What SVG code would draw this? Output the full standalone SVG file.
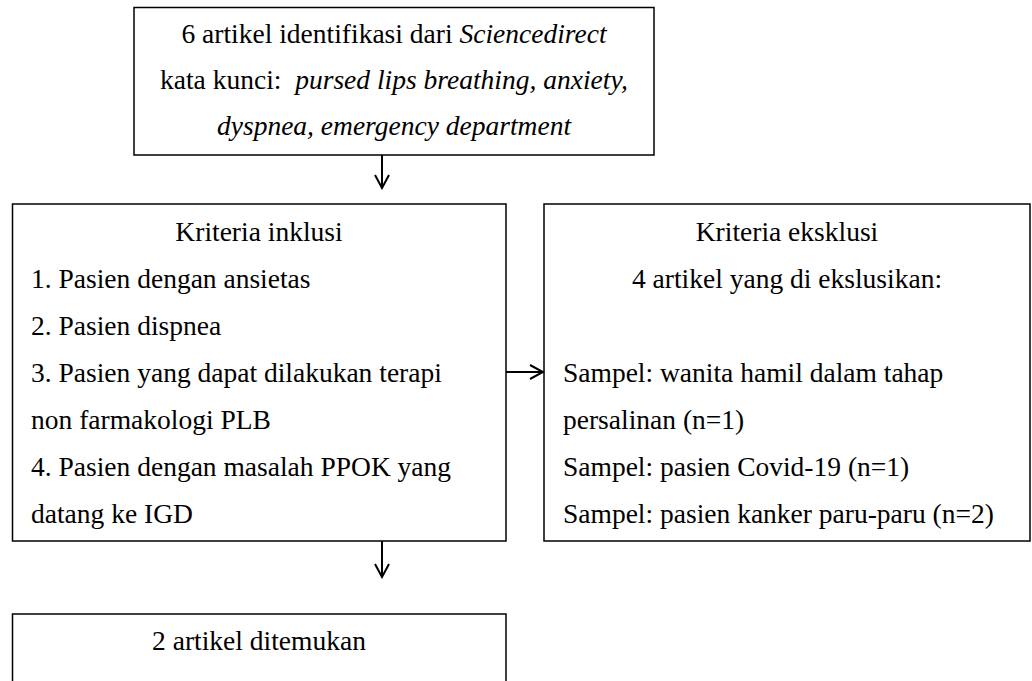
<svg xmlns="http://www.w3.org/2000/svg" width="1032" height="681" viewBox="0 0 1032 681">
<defs>
<style>
.box{fill:#fff;stroke:#000;stroke-width:1.5}
.t{font-family:"Liberation Serif","Times New Roman",serif;font-size:27.5px;fill:#000}
.c{text-anchor:middle}
.i{font-style:italic}
.conn{stroke:#000;stroke-width:2;fill:none}
</style>
<marker id="ah" viewBox="0 0 16 16" refX="14" refY="8" markerWidth="16" markerHeight="16" markerUnits="userSpaceOnUse" orient="auto">
<path d="M1,1 L14,8 L1,15" fill="none" stroke="#000" stroke-width="2"/>
</marker>
</defs>
<rect width="1032" height="681" fill="#fff"/>
<g id="node-identifikasi">
<rect class="box" x="134" y="7.5" width="520" height="147.5"/>
<text class="t c" x="394" y="43">6 artikel identifikasi dari <tspan class="i">Sciencedirect</tspan></text>
<text class="t c" x="394" y="89">kata kunci:&#160; <tspan class="i">pursed lips breathing, anxiety,</tspan></text>
<text class="t c i" x="394" y="135">dyspnea, emergency department</text>
</g>
<g id="node-inklusi">
<rect class="box" x="12.5" y="204" width="493.5" height="337"/>
<text class="t c" x="259" y="241">Kriteria inklusi</text>
<text class="t" x="31" y="288">1. Pasien dengan ansietas</text>
<text class="t" x="31" y="335">2. Pasien dispnea</text>
<text class="t" x="31" y="382">3. Pasien yang dapat dilakukan terapi</text>
<text class="t" x="31" y="429">non farmakologi PLB</text>
<text class="t" x="31" y="476">4. Pasien dengan masalah PPOK yang</text>
<text class="t" x="31" y="523">datang ke IGD</text>
</g>
<g id="node-eksklusi">
<rect class="box" x="544" y="204" width="486" height="337"/>
<text class="t c" x="787" y="241">Kriteria eksklusi</text>
<text class="t c" x="787" y="288">4 artikel yang di ekslusikan:</text>
<text class="t" x="563" y="382">Sampel: wanita hamil dalam tahap</text>
<text class="t" x="563" y="429">persalinan (n=1)</text>
<text class="t" x="563" y="476">Sampel: pasien Covid-19 (n=1)</text>
<text class="t" x="563" y="523">Sampel: pasien kanker paru-paru (n=2)</text>
</g>
<g id="node-ditemukan">
<rect class="box" x="12.5" y="614" width="493.5" height="80"/>
<text class="t c" x="259" y="650">2 artikel ditemukan</text>
</g>
<g id="connectors">
<line class="conn" x1="382" y1="155" x2="382" y2="188" marker-end="url(#ah)"/>
<line class="conn" x1="506" y1="372" x2="543" y2="372" marker-end="url(#ah)"/>
<line class="conn" x1="382" y1="541" x2="382" y2="577" marker-end="url(#ah)"/>
</g>
</svg>
